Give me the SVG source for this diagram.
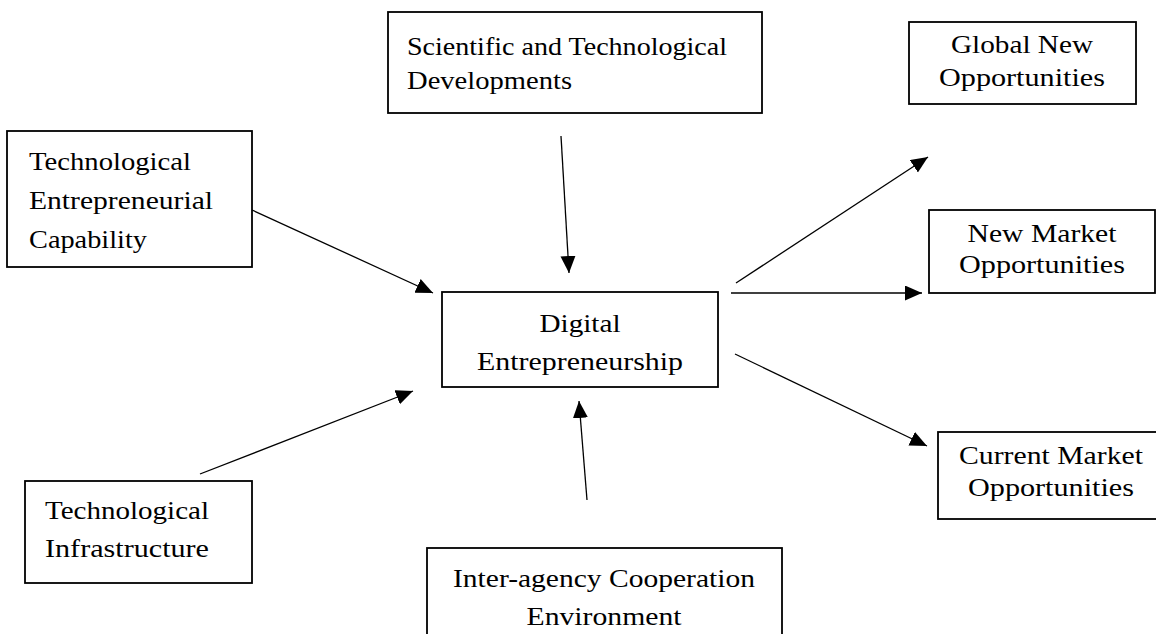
<svg xmlns="http://www.w3.org/2000/svg" width="1156" height="634" viewBox="0 0 1156 634">
<style>
.box{fill:#fff;stroke:#000;stroke-width:1.8}
.t{font-family:"Liberation Serif","Times New Roman",serif;font-size:26px;fill:#000}
.c{text-anchor:middle}
.con line{stroke:#000;stroke-width:1.3;marker-end:url(#ah)}
</style>
<defs>
<marker id="ah" markerUnits="userSpaceOnUse" markerWidth="18" markerHeight="16" refX="17" refY="7.5" orient="auto">
<path d="M0,0 L17,7.5 L0,15 z" fill="#000"/>
</marker>
</defs>
<rect width="1156" height="634" fill="#fff"/>
<g id="scientific">
<rect class="box" x="388" y="12" width="374" height="101"/>
<text class="t" x="407" y="55" textLength="320" lengthAdjust="spacingAndGlyphs">Scientific and Technological</text>
<text class="t" x="407" y="89" textLength="165" lengthAdjust="spacingAndGlyphs">Developments</text>
</g>
<g id="tec">
<rect class="box" x="7" y="131" width="245" height="136"/>
<text class="t" x="29" y="170" textLength="162" lengthAdjust="spacingAndGlyphs">Technological</text>
<text class="t" x="29" y="209" textLength="184" lengthAdjust="spacingAndGlyphs">Entrepreneurial</text>
<text class="t" x="29" y="248" textLength="118" lengthAdjust="spacingAndGlyphs">Capability</text>
</g>
<g id="digital">
<rect class="box" x="442" y="292" width="276" height="95"/>
<text class="t c" x="580" y="332" textLength="81" lengthAdjust="spacingAndGlyphs">Digital</text>
<text class="t c" x="580" y="370" textLength="206" lengthAdjust="spacingAndGlyphs">Entrepreneurship</text>
</g>
<g id="infrastructure">
<rect class="box" x="25" y="481" width="227" height="102"/>
<text class="t" x="45" y="519" textLength="164" lengthAdjust="spacingAndGlyphs">Technological</text>
<text class="t" x="45" y="557" textLength="164" lengthAdjust="spacingAndGlyphs">Infrastructure</text>
</g>
<g id="interagency">
<rect class="box" x="427" y="548" width="355" height="100"/>
<text class="t c" x="604" y="587" textLength="302" lengthAdjust="spacingAndGlyphs">Inter-agency Cooperation</text>
<text class="t c" x="604" y="625" textLength="155" lengthAdjust="spacingAndGlyphs">Environment</text>
</g>
<g id="global">
<rect class="box" x="909" y="22" width="227" height="82"/>
<text class="t c" x="1022" y="53" textLength="142" lengthAdjust="spacingAndGlyphs">Global New</text>
<text class="t c" x="1022" y="86" textLength="166" lengthAdjust="spacingAndGlyphs">Opportunities</text>
</g>
<g id="newmarket">
<rect class="box" x="929" y="210" width="226" height="83"/>
<text class="t c" x="1042" y="242" textLength="149" lengthAdjust="spacingAndGlyphs">New Market</text>
<text class="t c" x="1042" y="273" textLength="166" lengthAdjust="spacingAndGlyphs">Opportunities</text>
</g>
<g id="currentmarket">
<rect class="box" x="938" y="432" width="222" height="87"/>
<text class="t c" x="1051" y="464" textLength="184" lengthAdjust="spacingAndGlyphs">Current Market</text>
<text class="t c" x="1051" y="496" textLength="166" lengthAdjust="spacingAndGlyphs">Opportunities</text>
</g>
<g id="connectors" class="con">
<line x1="561" y1="136" x2="569" y2="273"/>
<line x1="252" y1="210" x2="433" y2="293"/>
<line x1="200" y1="474" x2="413" y2="391"/>
<line x1="587" y1="500" x2="579" y2="401"/>
<line x1="736" y1="283" x2="928" y2="157"/>
<line x1="731" y1="293" x2="922" y2="293"/>
<line x1="735" y1="354" x2="927" y2="446"/>
</g>
</svg>
